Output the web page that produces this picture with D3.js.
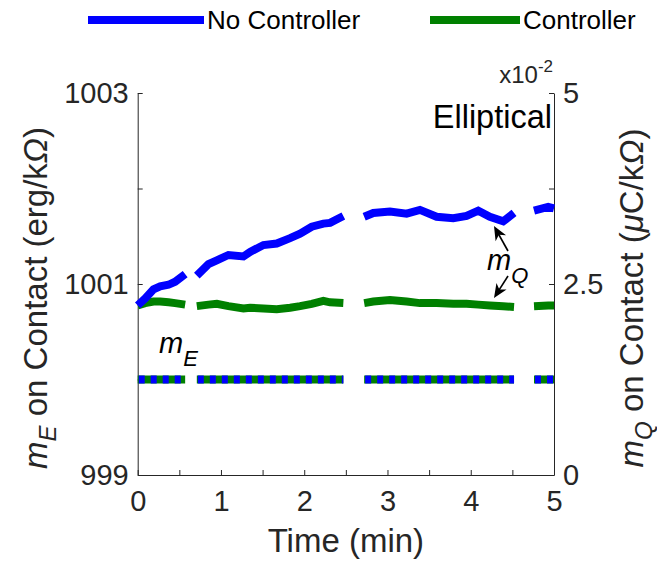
<!DOCTYPE html>
<html>
<head>
<meta charset="utf-8">
<script src="https://cdn.jsdelivr.net/npm/d3@7"></script>
<style>
  html, body { margin: 0; padding: 0; background: #fff; }
  svg { display: block; font-family: "Liberation Sans", Arial, Helvetica, sans-serif; }
</style>
</head>
<body>
<svg id="chart" width="657" height="563"></svg>
<script>
// Sample times (min); null entries mark the recording gaps
const timeMin = [0, 0.09, 0.19, 0.27, 0.37, 0.45, 0.57, 0.64, 0.71, 0.85, 0.95, 1.09, 1.27, 1.35,
  1.51, 1.67, 1.83, 1.95, 2.09, 2.23, 2.31, 2.47, 2.6, 2.72, 2.83, 3.03, 3.23, 3.39, 3.59, 3.79,
  3.95, 4.09, 4.23, 4.39, 4.52, 4.64, 4.76, 4.93, 5.0];

// m_Q (x10^-2 uC/kOhm), right axis
const mQNoController = [2.22, 2.31, 2.43, 2.47, 2.49, 2.53, 2.63, null, 2.61, 2.76, 2.81, 2.88, 2.86, 2.92,
  3.01, 3.03, 3.10, 3.16, 3.25, 3.29, 3.30, 3.39, null, 3.38, 3.43, 3.45, 3.42, 3.47, 3.38, 3.36,
  3.39, 3.46, 3.38, 3.32, 3.43, null, 3.46, 3.51, 3.49];
const mQController = [2.22, 2.25, 2.27, 2.27, 2.26, 2.25, 2.23, null, 2.21, 2.23, 2.24, 2.21, 2.18, 2.19,
  2.18, 2.17, 2.19, 2.21, 2.24, 2.28, 2.26, 2.25, null, 2.25, 2.27, 2.29, 2.27, 2.25, 2.25, 2.24,
  2.24, 2.23, 2.22, 2.21, 2.20, null, 2.21, 2.22, 2.22];

// m_E (erg/kOhm), left axis
const mENoController = [1000, 1000, 1000, 1000, 1000, 1000, 1000, null, 1000, 1000, 1000, 1000, 1000, 1000,
  1000, 1000, 1000, 1000, 1000, 1000, 1000, 1000, null, 1000, 1000, 1000, 1000, 1000, 1000, 1000,
  1000, 1000, 1000, 1000, 1000, null, 1000, 1000, 1000];
const mEController = [1000, 1000, 1000, 1000, 1000, 1000, 1000, null, 1000, 1000, 1000, 1000, 1000, 1000,
  1000, 1000, 1000, 1000, 1000, 1000, 1000, 1000, null, 1000, 1000, 1000, 1000, 1000, 1000, 1000,
  1000, 1000, 1000, 1000, 1000, null, 1000, 1000, 1000];

const xTicks = [0, 0.5, 1, 1.5, 2, 2.5, 3, 3.5, 4, 4.5, 5];
const xTickLabels = ["0", "", "1", "", "2", "", "3", "", "4", "", "5"];
const yLeftTicks = [999, 1000, 1001, 1002, 1003];
const yLeftTickLabels = ["999", "", "1001", "", "1003"];
const yRightTicks = [0, 1.25, 2.5, 3.75, 5];
const yRightTickLabels = ["0", "", "2.5", "", "5"];

const seriesNames = ["No Controller", "Controller"];
const seriesColors = ["#0000ff", "#008000"];

const svg = d3.select("#chart");
const axisColor = "#262626";
const plot = { left: 137.7, right: 554, top: 93, bottom: 475 };

const x = d3.scaleLinear().domain([0, 5]).range([plot.left, plot.right]);
const yL = d3.scaleLinear().domain([999, 1003]).range([plot.bottom, plot.top]);
const yR = d3.scaleLinear().domain([0, 5]).range([plot.bottom, plot.top]);

const tickFont = 29;
const titleFont = 33;

function styleAxis(g) {
  g.selectAll("path.domain").attr("stroke", axisColor).attr("stroke-width", 1);
  g.selectAll(".tick line").attr("stroke", axisColor).attr("stroke-width", 1);
  g.selectAll(".tick text").attr("fill", axisColor).attr("font-size", tickFont)
    .attr("font-family", "Liberation Sans, Arial, sans-serif");
}

// Axes, ticks pointing inward
const gx = svg.append("g").attr("transform", `translate(0,${plot.bottom})`)
  .call(d3.axisBottom(x).tickValues(xTicks).tickSizeInner(-5).tickSizeOuter(0).tickPadding(15)
    .tickFormat((d, i) => xTickLabels[i]));
styleAxis(gx);

const gyl = svg.append("g").attr("transform", `translate(${plot.left},0)`)
  .call(d3.axisLeft(yL).tickValues(yLeftTicks).tickSizeInner(-5).tickSizeOuter(0).tickPadding(9)
    .tickFormat((d, i) => yLeftTickLabels[i]));
styleAxis(gyl);

const gyr = svg.append("g").attr("transform", `translate(${plot.right},0)`)
  .call(d3.axisRight(yR).tickValues(yRightTicks).tickSizeInner(-5).tickSizeOuter(0).tickPadding(9)
    .tickFormat((d, i) => yRightTickLabels[i]));
styleAxis(gyr);

// Lines
const lineL = d3.line().defined(d => d[1] !== null).x(d => x(d[0])).y(d => yL(d[1]));
const lineR = d3.line().defined(d => d[1] !== null).x(d => x(d[0])).y(d => yR(d[1]));
const zip = vals => timeMin.map((t, i) => [t, vals[i]]);

const lines = svg.append("g").attr("fill", "none").attr("stroke-width", 8);

lines.append("path").attr("d", lineR(zip(mQController))).attr("stroke", seriesColors[1]);
lines.append("path").attr("d", lineR(zip(mQNoController))).attr("stroke", seriesColors[0]);
lines.append("path").attr("d", lineL(zip(mEController))).attr("stroke", seriesColors[1]);
lines.append("path").attr("d", lineL(zip(mENoController))).attr("stroke", seriesColors[0])
  .attr("stroke-dasharray", "6,6").attr("stroke-dashoffset", -1);

// Exponent label of the right axis
const expo = svg.append("text").attr("x", 553).attr("y", 83).attr("text-anchor", "end")
  .attr("fill", axisColor).attr("font-size", 24);
expo.append("tspan").text("x10");
expo.append("tspan").attr("dy", -11).attr("font-size", 17).text("-2");

// Axis titles
svg.append("text").attr("x", (plot.left + plot.right) / 2).attr("y", 552)
  .attr("text-anchor", "middle").attr("fill", axisColor).attr("font-size", titleFont).text("Time (min)");

function yTitle(xPos, yPos, sub, unitPrefix) {
  const t = svg.append("text").attr("transform", `translate(${xPos},${yPos}) rotate(-90)`)
    .attr("text-anchor", "middle").attr("fill", axisColor).attr("font-size", titleFont);
  t.append("tspan").attr("font-style", "italic").text("m");
  t.append("tspan").attr("font-style", "italic").attr("font-size", 24).attr("dy", 9).text(sub);
  t.append("tspan").attr("dy", -9).text(" on Contact (");
  unitPrefix(t);
  t.append("tspan").text("/k");
  t.append("tspan").attr("font-style", "italic").text("\u03A9");
  t.append("tspan").text(")");
}
yTitle(47, 298, "E", t => t.append("tspan").text("erg"));
yTitle(643, 298, "Q", t => {
  t.append("tspan").attr("font-style", "italic").text("\u03BC");
  t.append("tspan").text("C");
});

// Panel name
svg.append("text").attr("x", 552).attr("y", 128).attr("text-anchor", "end")
  .attr("fill", "#000").attr("font-size", 32.5).text("Elliptical");

// Annotations
function subLabel(xPos, yPos, sub) {
  const t = svg.append("text").attr("x", xPos).attr("y", yPos).attr("fill", "#000")
    .attr("font-size", 29).attr("font-style", "italic");
  t.append("tspan").text("m");
  t.append("tspan").attr("font-size", 22).attr("dy", 13).text(sub);
}
subLabel(159, 353, "E");
subLabel(487, 270, "Q");

function arrow(x1, y1, x2, y2) {
  const g = svg.append("g");
  const ang = Math.atan2(y2 - y1, x2 - x1);
  const len = 14, half = 6, back = 10;
  const px = Math.cos(ang), py = Math.sin(ang);
  const bx = x2 - px * len, by = y2 - py * len;
  const nx = -py, ny = px;
  g.append("line").attr("x1", x1).attr("y1", y1).attr("x2", x2 - px * 6).attr("y2", y2 - py * 6)
    .attr("stroke", "#000").attr("stroke-width", 1.6);
  const ix = x2 - px * back, iy = y2 - py * back;
  g.append("path").attr("d", `M${x2},${y2}L${bx + nx * half},${by + ny * half}L${ix},${iy}L${bx - nx * half},${by - ny * half}Z`)
    .attr("fill", "#000");
}
arrow(508, 251, 494, 226);
arrow(508, 276, 494, 298);

// Legend
const legend = svg.append("g");
const legendItems = [{ x0: 88, x1: 204, tx: 207 }, { x0: 430, x1: 520, tx: 523 }];
legendItems.forEach((it, i) => {
  legend.append("line").attr("x1", it.x0).attr("x2", it.x1).attr("y1", 20).attr("y2", 20)
    .attr("stroke", seriesColors[i]).attr("stroke-width", 8);
  legend.append("text").attr("x", it.tx).attr("y", 29).attr("fill", "#000")
    .attr("font-size", 26).text(seriesNames[i]);
});
</script>
</body>
</html>
